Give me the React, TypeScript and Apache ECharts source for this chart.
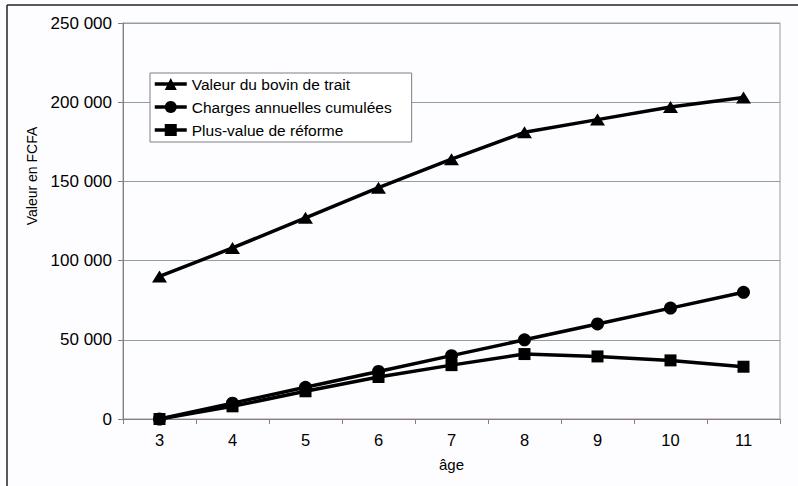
import React, { useEffect, useRef } from "react";
import * as echarts from "echarts";

const ages = ["3", "4", "5", "6", "7", "8", "9", "10", "11"];
const valeurBovin = [90000, 108000, 127000, 146000, 164000, 181000, 189000, 197000, 203000];
const chargesCumulees = [0, 10000, 20000, 30000, 40000, 50000, 60000, 70000, 80000];
const plusValue = [0, 8000, 17500, 26500, 34000, 41000, 39500, 37000, 33000];
const seriesNames = [
  "Valeur du bovin de trait",
  "Charges annuelles cumulées",
  "Plus-value de réforme",
];
const yTitle = "Valeur en FCFA";
const xTitle = "âge";

const FONT = "Liberation Sans, Arial, sans-serif";

function fmt(v: number): string {
  return String(v).replace(/\B(?=(\d{3})+(?!\d))/g, " ");
}

export default function App() {
  const ref = useRef<HTMLDivElement>(null);
  useEffect(() => {
    if (!ref.current) return;
    const chart = echarts.init(ref.current, null, { renderer: "svg" });
    const lineStyle = { color: "#000", width: 3.5 };
    chart.setOption({
      animation: false,
      backgroundColor: "#fdfdff",
      textStyle: { fontFamily: FONT, color: "#000" },
      grid: { left: 123, top: 23, right: 18, bottom: 67, show: true, borderColor: "#9a9a9a", borderWidth: 1, backgroundColor: "transparent" },
      legend: {
        orient: "vertical",
        left: 150,
        top: 73,
        width: 258,
        padding: [3, 20, 4, 3],
        itemWidth: 32,
        itemHeight: 15,
        itemGap: 7,
        backgroundColor: "#fff",
        borderColor: "#7a7f86",
        borderWidth: 1,
        lineStyle: { width: 3.5, color: "#000" },
        textStyle: { fontFamily: FONT, fontSize: 15.5, color: "#000", lineHeight: 15 },
        data: seriesNames,
      },
      xAxis: {
        type: "category",
        data: ages,
        boundaryGap: true,
        name: xTitle,
        nameLocation: "middle",
        nameGap: 38,
        nameTextStyle: { fontFamily: FONT, fontSize: 15, color: "#000" },
        axisLine: { show: true, lineStyle: { color: "#8a7c7c", width: 1 } },
        axisTick: { show: true, length: 5, lineStyle: { color: "#8a7c7c" } },
        axisLabel: { margin: 12, fontSize: 16.5, color: "#000", fontFamily: FONT },
        splitLine: { show: false },
      },
      yAxis: {
        type: "value",
        min: 0,
        max: 250000,
        interval: 50000,
        axisLine: { show: true, lineStyle: { color: "#8a7c7c", width: 1 } },
        axisTick: { show: true, length: 5, lineStyle: { color: "#8a7c7c" } },
        axisLabel: { margin: 11, fontSize: 17, color: "#000", fontFamily: FONT, formatter: (v: number) => fmt(v) },
        splitLine: { show: true, lineStyle: { color: "#8fa0a0", width: 1 } },
      },
      graphic: [
        {
          type: "text",
          x: 32,
          y: 176,
          rotation: Math.PI / 2,
          style: { text: yTitle, fontFamily: FONT, fontSize: 14, fill: "#000", align: "center", verticalAlign: "middle" },
        },
        { type: "line", shape: { x1: 7, y1: 5, x2: 798, y2: 5 }, style: { stroke: "#222", lineWidth: 1.5 } },
        { type: "line", shape: { x1: 7, y1: 5, x2: 7, y2: 486 }, style: { stroke: "#222", lineWidth: 1.5 } },
      ],
      series: [
        {
          name: seriesNames[0],
          type: "line",
          data: valeurBovin,
          symbol: "triangle",
          symbolSize: [15, 12],
          showAllSymbol: true,
          lineStyle,
          itemStyle: { color: "#000" },
        },
        {
          name: seriesNames[1],
          type: "line",
          data: chargesCumulees,
          symbol: "circle",
          symbolSize: 13,
          showAllSymbol: true,
          lineStyle,
          itemStyle: { color: "#000" },
        },
        {
          name: seriesNames[2],
          type: "line",
          data: plusValue,
          symbol: "rect",
          symbolSize: 12,
          showAllSymbol: true,
          lineStyle,
          itemStyle: { color: "#000" },
          z: 1,
        },
      ],
    });
    return () => chart.dispose();
  }, []);
  return (
    <div
      ref={ref}
      style={{ position: "fixed", left: 0, top: 0, width: 798, height: 486 }}
    />
  );
}
